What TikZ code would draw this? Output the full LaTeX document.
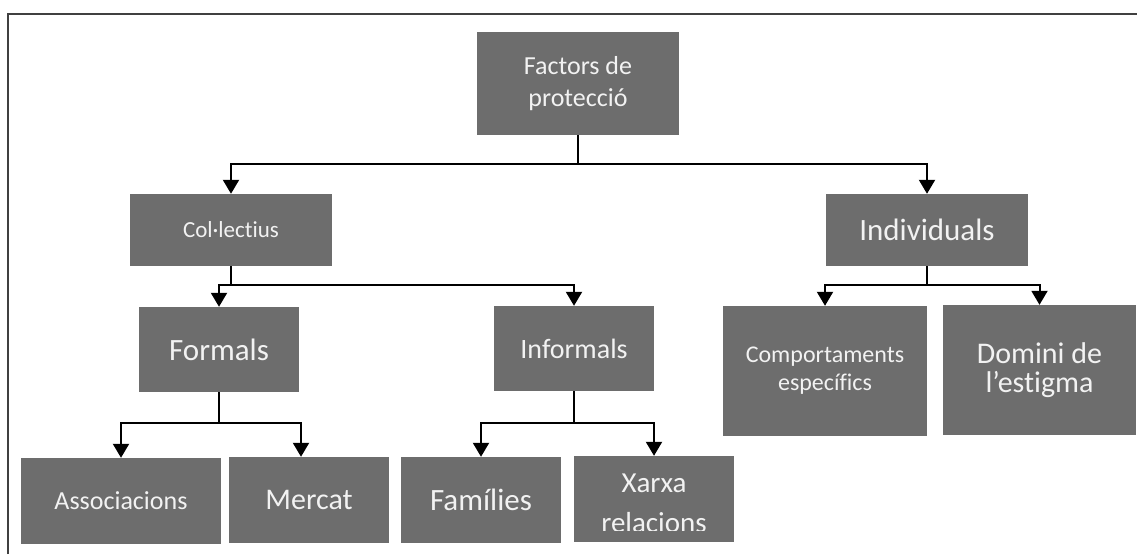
\documentclass[tikz,border=0pt]{standalone}
\usepackage{fontspec}
\setmainfont{Carlito}[Ligatures={NoCommon,NoContextual}, RawFeature={-liga;-clig;-calt}]
\usepackage{xcolor}
\usetikzlibrary{arrows.meta}
\definecolor{boxgray}{HTML}{6D6D6D}
\definecolor{boxtext}{HTML}{F2F2F2}
\definecolor{framegray}{HTML}{404040}

\begin{document}
\begin{tikzpicture}[x=1pt, y=-1pt,
	box/.style={fill=boxgray, text=boxtext, inner sep=0pt, align=center},
	link/.style={line width=2pt, -{Triangle[width=16pt,length=14pt]}}]
	\useasboundingbox (0,0) rectangle (1137,554);
	\draw[line width=2pt, framegray] (8,554) -- (8,14) -- (1137,14);
	% top level
	\node[box, minimum width=202pt, minimum height=103pt, font=\fontsize{26}{32}\selectfont] (fact) at (578,83.5) {Factors de\\protecció};
	\node[box, minimum width=202pt, minimum height=72pt, font=\fontsize{23}{28}\selectfont] (col) at (231,230) {Col·lectius};
	\node[box, minimum width=202pt, minimum height=72pt, font=\fontsize{31}{37}\selectfont] (ind) at (927,230) {Individuals};
	% second level
	\node[box, minimum width=160pt, minimum height=85pt, font=\fontsize{31}{37}\selectfont] (form) at (219,349.5) {Formals};
	\node[box, minimum width=160pt, minimum height=85pt, font=\fontsize{28}{34}\selectfont] (inf) at (574,348.5) {Informals};
	\node[box, minimum width=204pt, minimum height=130pt, font=\fontsize{24}{28}\selectfont] (comp) at (825,371) {Comportaments\\específics};
	\node[box, minimum width=193pt, minimum height=130pt, font=\fontsize{30}{29}\selectfont] (dom) at (1039.5,370) {Domini de\\l’estigma};
	% third level
	\node[box, minimum width=200pt, minimum height=86pt, font=\fontsize{26}{31}\selectfont] (assoc) at (121,501) {Associacions};
	\node[box, minimum width=160pt, minimum height=86pt, font=\fontsize{30}{36}\selectfont] (merc) at (309,500) {Mercat};
	\node[box, minimum width=160pt, minimum height=86pt, font=\fontsize{31}{37}\selectfont] (fam) at (481,500) {Famílies};
	\node[box, minimum width=160pt, minimum height=86pt] (xar) at (654,499) {};
	\begin{scope}
		\clip (xar.north west) rectangle ([yshift=12pt]xar.south east);
		\node[text=boxtext, inner sep=0pt, align=center, anchor=north, font=\fontsize{29}{35}\selectfont] (xartext) at (654,474) {Xarxa\\[5pt]relacions};
	\end{scope}
	% connectors
	\draw[link] (fact.south) -- ++(0,29) -| (col.north);
	\draw[link] (fact.south) -- ++(0,29) -| (ind.north);
	\draw[link] (col.south) -- ++(0,19) -| (form.north);
	\draw[link] (col.south) -- ++(0,19) -| (inf.north);
	\draw[link] (ind.south) -- ++(0,19) -| (comp.north);
	\draw[link] (ind.south) -- ++(0,19) -| (dom.north);
	\draw[link] (form.south) -- ++(0,31) -| (assoc.north);
	\draw[link] (form.south) -- ++(0,31) -| ([xshift=-8pt]merc.north);
	\draw[link] (inf.south) -- ++(0,32) -| (fam.north);
	\draw[link] (inf.south) -- ++(0,32) -| (xar.north);
\end{tikzpicture}
\end{document}
